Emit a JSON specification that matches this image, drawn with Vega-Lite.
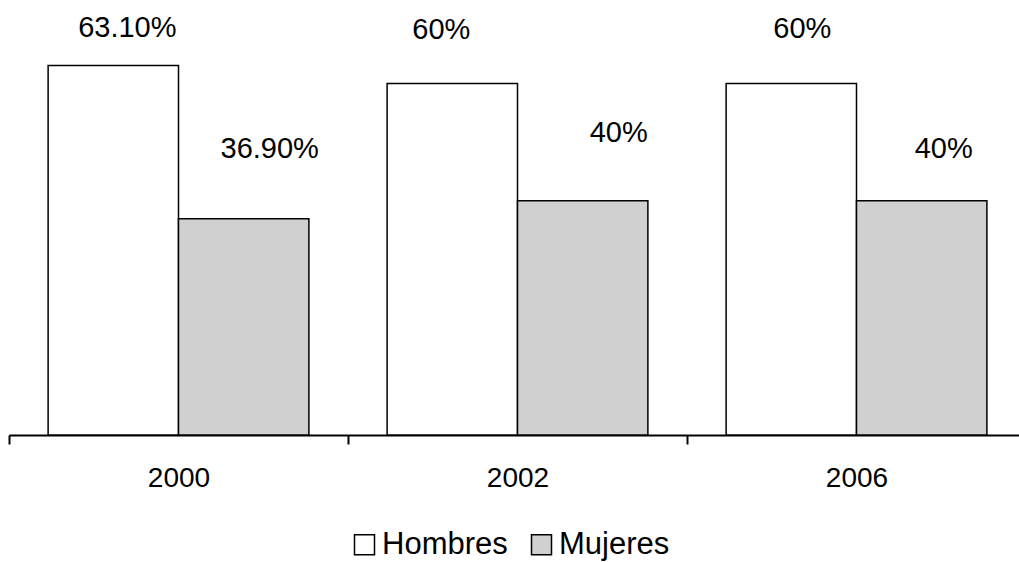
{
  "$schema": "https://vega.github.io/schema/vega-lite/v6.json",
  "width": 1017,
  "height": 410,
  "autosize": {"type": "none"},
  "padding": {"left": 9, "top": 25, "right": 0, "bottom": 127},
  "background": "white",
  "config": {
    "view": {"stroke": null},
    "font": "Liberation Sans",
    "text": {"font": "Liberation Sans", "fontSize": 29, "fill": "black", "align": "center", "baseline": "alphabetic"}
  },
  "data": {
    "values": [
      {"year": "2000", "sexo": "Hombres", "value": 63.1, "label": "63.10%"},
      {"year": "2000", "sexo": "Mujeres", "value": 36.9, "label": "36.90%"},
      {"year": "2002", "sexo": "Hombres", "value": 60, "label": "60%"},
      {"year": "2002", "sexo": "Mujeres", "value": 40, "label": "40%"},
      {"year": "2006", "sexo": "Hombres", "value": 60, "label": "60%"},
      {"year": "2006", "sexo": "Mujeres", "value": 40, "label": "40%"}
    ]
  },
  "encoding": {
    "x": {
      "field": "year", "type": "nominal",
      "scale": {"paddingInner": 0, "paddingOuter": 0},
      "axis": {
        "title": null, "labelAngle": 0, "tickBand": "extent",
        "domainColor": "black", "domainWidth": 2, "tickColor": "black", "tickWidth": 2, "tickSize": 9,
        "labelFont": "Liberation Sans", "labelFontSize": 28, "labelColor": "black", "labelPadding": 20
      }
    },
    "xOffset": {"field": "sexo", "type": "nominal", "scale": {"paddingInner": 0, "paddingOuter": 0.3}},
    "y": {"field": "value", "type": "quantitative", "scale": {"domain": [0, 70], "nice": false}, "axis": null}
  },
  "layer": [
    {
      "mark": {"type": "bar", "stroke": "black", "strokeWidth": 1.5},
      "encoding": {
        "fill": {
          "field": "sexo", "type": "nominal",
          "scale": {"domain": ["Hombres", "Mujeres"], "range": ["white", "#d0d0d0"]},
          "legend": {
            "title": null, "orient": "none", "direction": "horizontal", "legendX": 340, "legendY": 504,
            "symbolType": "square", "symbolSize": 400, "symbolStrokeColor": "black", "symbolStrokeWidth": 1.5,
            "labelFont": "Liberation Sans", "labelFontSize": 31, "labelColor": "black", "labelOffset": 2, "columnPadding": 18
          }
        }
      }
    },
    {"transform": [{"filter": "datum.year == '2000' && datum.sexo == 'Hombres'"}], "mark": {"type": "text", "dx": 14, "dy": -28}, "encoding": {"text": {"field": "label"}}},
    {"transform": [{"filter": "datum.year == '2002' && datum.sexo == 'Hombres'"}], "mark": {"type": "text", "dx": -11, "dy": -45}, "encoding": {"text": {"field": "label"}}},
    {"transform": [{"filter": "datum.year == '2006' && datum.sexo == 'Hombres'"}], "mark": {"type": "text", "dx": 11, "dy": -46}, "encoding": {"text": {"field": "label"}}},
    {"transform": [{"filter": "datum.year == '2000' && datum.sexo == 'Mujeres'"}], "mark": {"type": "text", "dx": 26, "dy": -61}, "encoding": {"text": {"field": "label"}}},
    {"transform": [{"filter": "datum.year == '2002' && datum.sexo == 'Mujeres'"}], "mark": {"type": "text", "dx": 36, "dy": -59}, "encoding": {"text": {"field": "label"}}},
    {"transform": [{"filter": "datum.year == '2006' && datum.sexo == 'Mujeres'"}], "mark": {"type": "text", "dx": 22, "dy": -43}, "encoding": {"text": {"field": "label"}}}
  ]
}
